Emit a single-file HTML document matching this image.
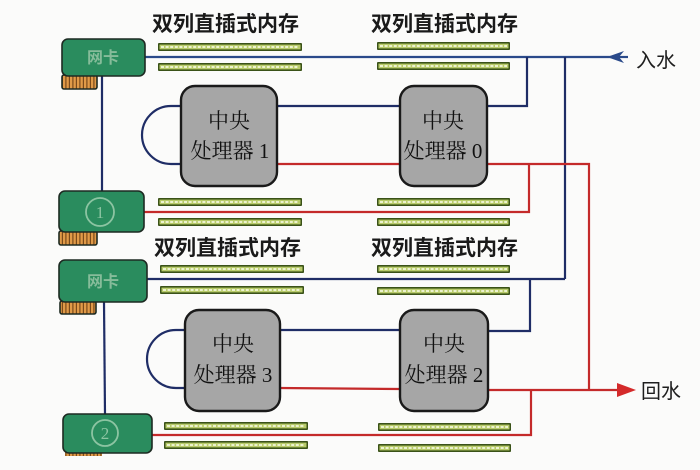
<!DOCTYPE html>
<html><head><meta charset="utf-8"><style>
html,body{margin:0;padding:0;background:#fbfbfa;}
svg{display:block;}
.lbl{font-family:"Liberation Sans","Noto Sans CJK SC",sans-serif;font-size:21px;font-weight:bold;fill:#1a1a1a;}
.cpu{font-family:"Liberation Serif","Noto Serif CJK SC",serif;font-size:21px;fill:#111;}
.side{font-family:"Liberation Sans","Noto Sans CJK SC",sans-serif;font-size:20px;fill:#1e1e1e;}
.card{font-family:"Liberation Sans","Noto Sans CJK SC",sans-serif;font-size:16px;font-weight:bold;fill:#86bc9a;}
.num{font-family:"Liberation Serif",serif;font-size:17px;fill:#8cc4a2;}
</style></head><body>
<svg width="700" height="470" viewBox="0 0 700 470" xmlns="http://www.w3.org/2000/svg">
<defs>
<g id="strip">
<rect x="0" y="0" width="144" height="8" rx="1" fill="#3a5218"/>
<rect x="1.5" y="1.6" width="141" height="4.8" fill="#b8cb6a"/>
<line x1="3" y1="4" x2="141" y2="4" stroke="#f4f8dc" stroke-width="1.8" stroke-dasharray="3,1.6"/>
</g>
<g id="strip2">
<rect x="0" y="0" width="133" height="8" rx="1" fill="#3a5218"/>
<rect x="1.5" y="1.6" width="130" height="4.8" fill="#b8cb6a"/>
<line x1="3" y1="4" x2="130" y2="4" stroke="#f4f8dc" stroke-width="1.8" stroke-dasharray="3,1.6"/>
</g>
<pattern id="pins" width="3.5" height="10" patternUnits="userSpaceOnUse">
<rect width="3.5" height="10" fill="#e09a48"/>
<rect x="2.3" width="1.2" height="10" fill="#7a4a1a"/>
</pattern>
</defs>

<!-- labels -->
<text class="lbl" x="152" y="31">双列直插式内存</text>
<text class="lbl" x="371" y="31">双列直插式内存</text>
<text class="lbl" x="154" y="255">双列直插式内存</text>
<text class="lbl" x="371" y="255">双列直插式内存</text>

<!-- strips -->
<use href="#strip" x="158" y="43"/>
<use href="#strip" x="158" y="63"/>
<use href="#strip2" x="377" y="42"/>
<use href="#strip2" x="377" y="62"/>
<use href="#strip" x="158" y="198"/>
<use href="#strip" x="158" y="218"/>
<use href="#strip2" x="377" y="198"/>
<use href="#strip2" x="377" y="218"/>
<use href="#strip" x="160" y="265"/>
<use href="#strip" x="160" y="286"/>
<use href="#strip2" x="377" y="265"/>
<use href="#strip2" x="377" y="287"/>
<use href="#strip" x="164" y="422"/>
<use href="#strip" x="164" y="441"/>
<use href="#strip2" x="378" y="423"/>
<use href="#strip2" x="378" y="444"/>

<!-- blue lines -->
<g fill="none" stroke="#1f2d66" stroke-width="2.2">
<line x1="145" y1="57" x2="612" y2="57" stroke="#2a4a8a"/>
<line x1="612" y1="57" x2="628" y2="57" stroke="#2a4a8a"/>
<polyline points="487,106 527,106 527,57"/>
<line x1="565" y1="57" x2="565" y2="279"/>
<line x1="277" y1="106" x2="400" y2="106"/>
<path d="M181,106 H171 A29,29 0 0 0 171,164 H181"/>
<line x1="102" y1="75" x2="102" y2="191"/>
<polyline points="147,279 565,279"/>
<polyline points="488,331 530,331 530,279"/>
<line x1="280" y1="330" x2="400" y2="330"/>
<path d="M185,330 H176 A29,29 0 0 0 176,388 H185"/>
<line x1="104" y1="302" x2="105" y2="414"/>
</g>
<polygon points="607,57 624,51 619,57 624,63" fill="#2a4a8a"/>

<!-- red lines -->
<g fill="none" stroke="#c42a2a" stroke-width="2.2">
<line x1="277" y1="164" x2="400" y2="164"/>
<polyline points="487,164 589,164 589,390"/>
<polyline points="529,164 529,212 144,212"/>
<line x1="280" y1="388" x2="400" y2="389"/>
<line x1="488" y1="390" x2="620" y2="390"/>
<polyline points="531,390 531,435 152,435"/>
</g>
<polygon points="636,390 617,383 617,397" fill="#d42a2a"/>

<text class="side" x="636" y="67">入水</text>
<text class="side" x="641" y="398">回水</text>

<!-- CPUs -->
<g stroke="#1a1a1a" stroke-width="2.4" fill="#a6a6a6">
<rect x="181" y="86" width="96" height="100" rx="14"/>
<rect x="400" y="86" width="87" height="100" rx="14"/>
<rect x="185" y="310" width="95" height="101" rx="14"/>
<rect x="400" y="310" width="88" height="101" rx="14"/>
</g>
<text class="cpu" x="229" y="128" text-anchor="middle">中央</text>
<text class="cpu" x="230" y="158" text-anchor="middle">处理器 1</text>
<text class="cpu" x="443" y="128" text-anchor="middle">中央</text>
<text class="cpu" x="443" y="158" text-anchor="middle">处理器 0</text>
<text class="cpu" x="233" y="351" text-anchor="middle">中央</text>
<text class="cpu" x="233" y="382" text-anchor="middle">处理器 3</text>
<text class="cpu" x="444" y="351" text-anchor="middle">中央</text>
<text class="cpu" x="444" y="382" text-anchor="middle">处理器 2</text>

<!-- cards -->
<g stroke="#1d2a22" stroke-width="1.6">
<rect x="62" y="75" width="35" height="14" rx="2" fill="url(#pins)"/>
<rect x="62" y="39" width="83" height="37" rx="6" fill="#2a8c5e"/>
<rect x="59" y="231" width="38" height="14" rx="2" fill="url(#pins)"/>
<rect x="59" y="191" width="85" height="41" rx="6" fill="#2a8c5e"/>
<rect x="60" y="301" width="36" height="13" rx="2" fill="url(#pins)"/>
<rect x="59" y="260" width="88" height="42" rx="6" fill="#2a8c5e"/>
<rect x="65" y="451" width="37" height="5" fill="url(#pins)" stroke="none"/>
<rect x="63" y="414" width="89" height="39" rx="6" fill="#2a8c5e"/>
</g>
<text class="card" x="103" y="63" text-anchor="middle">网卡</text>
<text class="card" x="103" y="287" text-anchor="middle">网卡</text>
<circle cx="100" cy="212" r="14" fill="none" stroke="#8cc4a2" stroke-width="1.8"/>
<text class="num" x="100" y="218" text-anchor="middle">1</text>
<circle cx="105" cy="433" r="13" fill="none" stroke="#8cc4a2" stroke-width="1.8"/>
<text class="num" x="105" y="439" text-anchor="middle">2</text>
</svg>
</body></html>
